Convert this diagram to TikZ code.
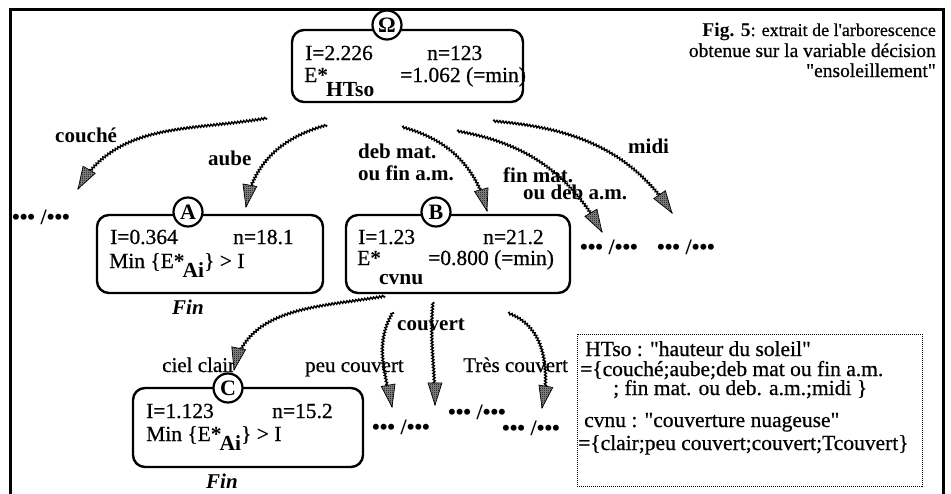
\documentclass[tikz,border=0pt]{standalone}
\usepackage{fontspec}
\setmainfont{Liberation Serif}[Ligatures=TeXOff, UprightFeatures={FakeBold=0.6}]
\usetikzlibrary{decorations.pathmorphing,decorations.markings,patterns}
\pgfdeclarepatternformonly{dither}{\pgfpointorigin}{\pgfpoint{2pt}{2pt}}{\pgfpoint{2pt}{2pt}}{%
  \pgfpathrectangle{\pgfpointorigin}{\pgfpoint{1pt}{1pt}}%
  \pgfpathrectangle{\pgfpoint{1pt}{1pt}}{\pgfpoint{1pt}{1pt}}%
  \pgfusepath{fill}}
\newcommand\Ed[2]{E\textbf{*}\kern-2pt\raisebox{-#1}{\textbf{#2}}}
\tikzset{
  box/.style={draw, line width=2.4pt, rounded corners=12pt, inner sep=0pt, fill=white},
  lettre/.style={circle, draw, line width=2.2pt, fill=white, minimum size=29pt, inner sep=0pt, font=\fontsize{22}{22}\selectfont\bfseries},
  txt/.style={anchor=base west, inner sep=0pt, font=\fontsize{21.5}{21.5}\selectfont},
  lab/.style={anchor=base west, inner sep=0pt, font=\fontsize{21}{21}\selectfont\bfseries},
  labr/.style={anchor=base west, inner sep=0pt, font=\fontsize{21}{21}\selectfont},
  fin/.style={anchor=base, inner sep=0pt, font=\fontsize{21}{21}\selectfont\bfseries\itshape},
  etc/.style={inner sep=0pt, font=\fontsize{22}{22}\selectfont\bfseries},
  ttl/.style={anchor=base east, inner sep=0pt, font=\fontsize{19.5}{19.5}\selectfont},
  wavy/.style={
    postaction={draw, line width=1.4pt, decorate,
      decoration={snake, amplitude=1pt, segment length=3pt, post length=14pt}},
    postaction={decorate, decoration={markings, mark=at position 0.999 with {
      \fill[black!45] (0,0) -- (-22,7) -- (-22,-7) -- cycle;
      \fill[pattern=dither] (0,0) -- (-22,7) -- (-22,-7) -- cycle;
      \draw[line width=0.7pt] (0,0) -- (-22,7) -- (-22,-7) -- cycle;}}}}
}
\begin{document}
\begin{tikzpicture}[x=1pt, y=-1pt]
\useasboundingbox (0,0) rectangle (951,493);
% frame
\draw[line width=3pt] (10,496) -- (10,9) -- (943,9) -- (943,496);
% title
\node[ttl, font=\fontsize{18}{18}\selectfont] (ti1) at (936,36) {{\fontsize{19.5}{19.5}\selectfont\bfseries Fig. 5}: extrait de l'arborescence};
\node[ttl] (ti2) at (936,57) {obtenue sur la variable décision};
\node[ttl] (ti3) at (936,77) {"ensoleillement"};
% root box
\node[box, minimum width=231pt, minimum height=72pt] (Ob) at (407.5,66) {};
\node[lettre] (Oc) at (387,25) {Ω};
\node[txt] (O1) at (305,60) {I=2.226};
\node[txt] (O2) at (427,60) {n=123};
\node[txt] (O3) at (304,82) {\Ed{14pt}{HTso}};
\node[txt] (O4) at (400,82) {=1.062 (=min)};
% A box
\node[box, minimum width=226pt, minimum height=78pt] (Ab) at (210,254) {};
\node[lettre] (Ac) at (188,212) {A};
\node[txt] (A1) at (110,244) {I=0.364};
\node[txt] (A2) at (233,244) {n=18.1};
\node[txt] (A3) at (109,268) {Min \{\Ed{9pt}{Ai}\} > I};
\node[fin] (Af) at (188,314) {Fin};
% B box
\node[box, minimum width=224pt, minimum height=78pt] (Bb) at (458,254) {};
\node[lettre] (Bc) at (436,212) {B};
\node[txt] (B1) at (358,244) {I=1.23};
\node[txt] (B2) at (483,244) {n=21.2};
\node[txt] (B3) at (357,265) {\Ed{19pt}{cvnu}};
\node[txt] (B4) at (428,265) {=0.800 (=min)};
% C box
\node[box, minimum width=230pt, minimum height=79pt] (Cb) at (248,427.5) {};
\node[lettre] (Cc) at (228,388) {C};
\node[txt] (C1) at (146,418) {I=1.123};
\node[txt] (C2) at (272,418) {n=15.2};
\node[txt] (C3) at (146,441) {Min \{\Ed{9pt}{Ai}\} > I};
\node[fin] (Cf) at (222,488) {Fin};
% ellipsis nodes
\node[etc] (E1) at (41,217) {••• /•••};
\node[etc] (E2) at (609,247) {••• /•••};
\node[etc] (E3) at (686,247) {••• /•••};
\node[etc] (E4) at (401,427) {••• /•••};
\node[etc] (E5) at (477,412) {••• /•••};
\node[etc] (E6) at (531,428) {••• /•••};
% branch labels
\node[lab] (L1) at (55,142) {couché};
\node[lab] (L2) at (208,165) {aube};
\node[lab] (L3) at (358,158) {deb mat.};
\node[lab] (L3b) at (358,180) {ou fin a.m.};
\node[lab] (L4) at (503,182) {fin mat.};
\node[lab] (L4b) at (523,199) {ou deb a.m.};
\node[lab] (L5) at (628,153) {midi};
\node[labr] (M1) at (162,372) {ciel clair};
\node[labr] (M2) at (305,372) {peu couvert};
\node[lab] (M3) at (397,330) {couvert};
\node[labr] (M4) at (463,372) {Très couvert};
% legend
\node[draw, densely dotted, line width=1pt, minimum width=345pt, minimum height=152pt, inner sep=0pt] (Lg) at (749.5,410) {};
\node[txt] (G1) at (585,356) {HTso : "hauteur du soleil"};
\node[txt] (G2) at (580,376) {=\{couché;aube;deb mat ou fin a.m.};
\node[txt] (G3) at (613,395) {; fin mat. ou deb. a.m.;midi \}};
\node[txt] (G4) at (584,427) {cvnu : "couverture nuageuse"};
\node[txt] (G5) at (578,450) {=\{clair;peu couvert;couvert;Tcouvert\}};
% arrow end points
\coordinate (s1) at (267,118); \coordinate (t1) at (78,189);
\coordinate (s2) at (327,125); \coordinate (t2) at (246,207);
\coordinate (s3) at (402,127); \coordinate (t3) at (487,211);
\coordinate (s4) at (457,131); \coordinate (t4) at (602,232);
\coordinate (s5) at (493,121); \coordinate (t5) at (672,213);
\coordinate (s6) at (385,296); \coordinate (t6) at (234,370);
\coordinate (s7) at (393,312); \coordinate (t7) at (392,407);
\coordinate (s8) at (433,302); \coordinate (t8) at (435,405);
\coordinate (s9) at (508,313); \coordinate (t9) at (542,408);
\path[wavy] (s1) to[out=190, in=60] (t1);
\path[wavy] (s2) to[out=195, in=80] (t2);
\path[wavy] (s3) to[out=-15, in=105] (t3);
\path[wavy] (s4) to[out=-10, in=120] (t4);
\path[wavy] (s5) to[out=-5, in=124] (t5);
\path[wavy] (s6) to[out=190, in=78] (t6);
\path[wavy] (s7) to[out=240, in=100] (t7);
\path[wavy] (s8) to[out=265, in=90] (t8);
\path[wavy] (s9) to[out=-20, in=80] (t9);
\end{tikzpicture}
\end{document}
